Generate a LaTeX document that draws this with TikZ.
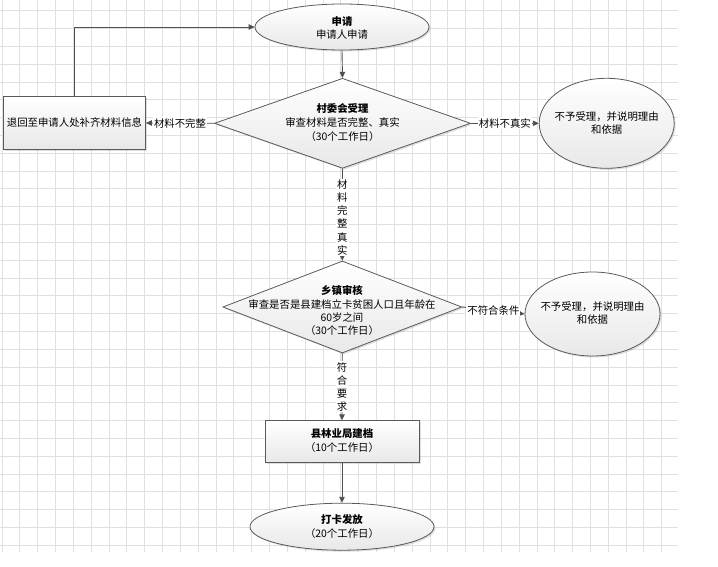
\documentclass[tikz,border=0pt]{standalone}
\usepackage{fontspec}
\setmainfont{Noto Sans CJK SC}
\usetikzlibrary{shapes.geometric,arrows.meta,shadows}
\definecolor{bordergray}{HTML}{5A5A5A}
\definecolor{linegray}{HTML}{505050}
\definecolor{gridgray}{HTML}{E0E0E0}
\begin{document}
\begin{tikzpicture}[x=1pt,y=-1pt,
  every node/.style={font=\fontsize{10.4}{13.4}\selectfont, text=black},
  shp/.style={draw=bordergray, line width=0.8pt, top color=white, bottom color=gray!18,
    drop shadow={shadow xshift=1.5pt, shadow yshift=-1.5pt, opacity=0.25}, inner sep=0pt},
  oval/.style={shp, ellipse},
  box/.style={shp, rectangle},
  dia/.style={shp, diamond},
  txt/.style={align=center, inner sep=0pt},
  conn/.style={draw=linegray, line width=0.9pt, -{Triangle[length=6pt,width=5.5pt]}},
  lbl/.style={fill=white, inner sep=1pt},
  vlbl/.style={fill=white, inner sep=1pt, align=center, font=\fontsize{10.4}{13.2}\selectfont}
]
\useasboundingbox (0,0) rectangle (718,567);
% grid
\foreach \i in {0,...,37} \draw[gridgray, line width=0.8pt] ({2+17.83*\i},0) -- ({2+17.83*\i},551.7);
\foreach \j in {0,...,30} \draw[gridgray, line width=0.8pt] (0,{10.7+17.82*\j}) -- (678,{10.7+17.82*\j});

% shapes
\node[oval, minimum width=174pt, minimum height=46pt] (apply) at (342,27) {};
\node[txt] (applyt) at (342,28) {\textbf{申请}\\申请人申请};

\node[box, minimum width=142pt, minimum height=52.6pt] (back) at (74.5,123) {};
\node[txt] (backt) at (74.5,123) {退回至申请人处补齐材料信息};

\node[dia, minimum width=256pt, minimum height=90pt] (d1) at (342.5,123.3) {};
\node[txt, font=\fontsize{10.4}{14.2}\selectfont] (d1t) at (342.5,122.4) {\textbf{村委会受理}\\审查材料是否完整、真实\\（30个工作日）};

\node[oval, minimum width=135pt, minimum height=90pt] (rej1) at (606.7,123.3) {};
\node[txt, font=\fontsize{10.4}{12.6}\selectfont] (rej1t) at (606.7,123) {不予受理，并说明理由\\和依据};

\node[dia, minimum width=239pt, minimum height=92pt] (d2) at (342.3,307) {};
\node[txt] (d2t) at (342,310.7) {\textbf{乡镇审核}\\审查是否是县建档立卡贫困人口且年龄在\\60岁之间\\（30个工作日）};

\node[oval, minimum width=135pt, minimum height=84pt] (rej2) at (592.5,314) {};
\node[txt, font=\fontsize{10.4}{12.6}\selectfont] (rej2t) at (592.5,313) {不予受理，并说明理由\\和依据};

\node[box, minimum width=154pt, minimum height=41.6pt] (arch) at (342,441.5) {};
\node[txt] (archt) at (342,440.5) {\textbf{县林业局建档}\\（10个工作日）};

\node[oval, minimum width=184pt, minimum height=47pt] (grant) at (342,526.7) {};
\node[txt] (grantt) at (342,526.7) {\textbf{打卡发放}\\（20个工作日）};

% connectors
\draw[conn] (back.north) |- (apply.west);
\draw[conn] (apply.south) -- (d1.north);
\draw[conn] (d1.west) -- node[lbl] {材料不完整} (back.east);
\draw[conn] (d1.east) -- node[lbl] {材料不真实} (rej1.west);
\draw[conn] (d1.south) -- node[vlbl, pos=0.53] {材\\料\\完\\整\\真\\实} (d2.north);
\draw[conn] (d2.east) -- node[lbl] {不符合条件} (rej2.west);
\draw[conn] (d2.south) -- node[vlbl] {符\\合\\要\\求} (arch.north);
\draw[conn] (arch.south) -- (grant.north);
\end{tikzpicture}
\end{document}
